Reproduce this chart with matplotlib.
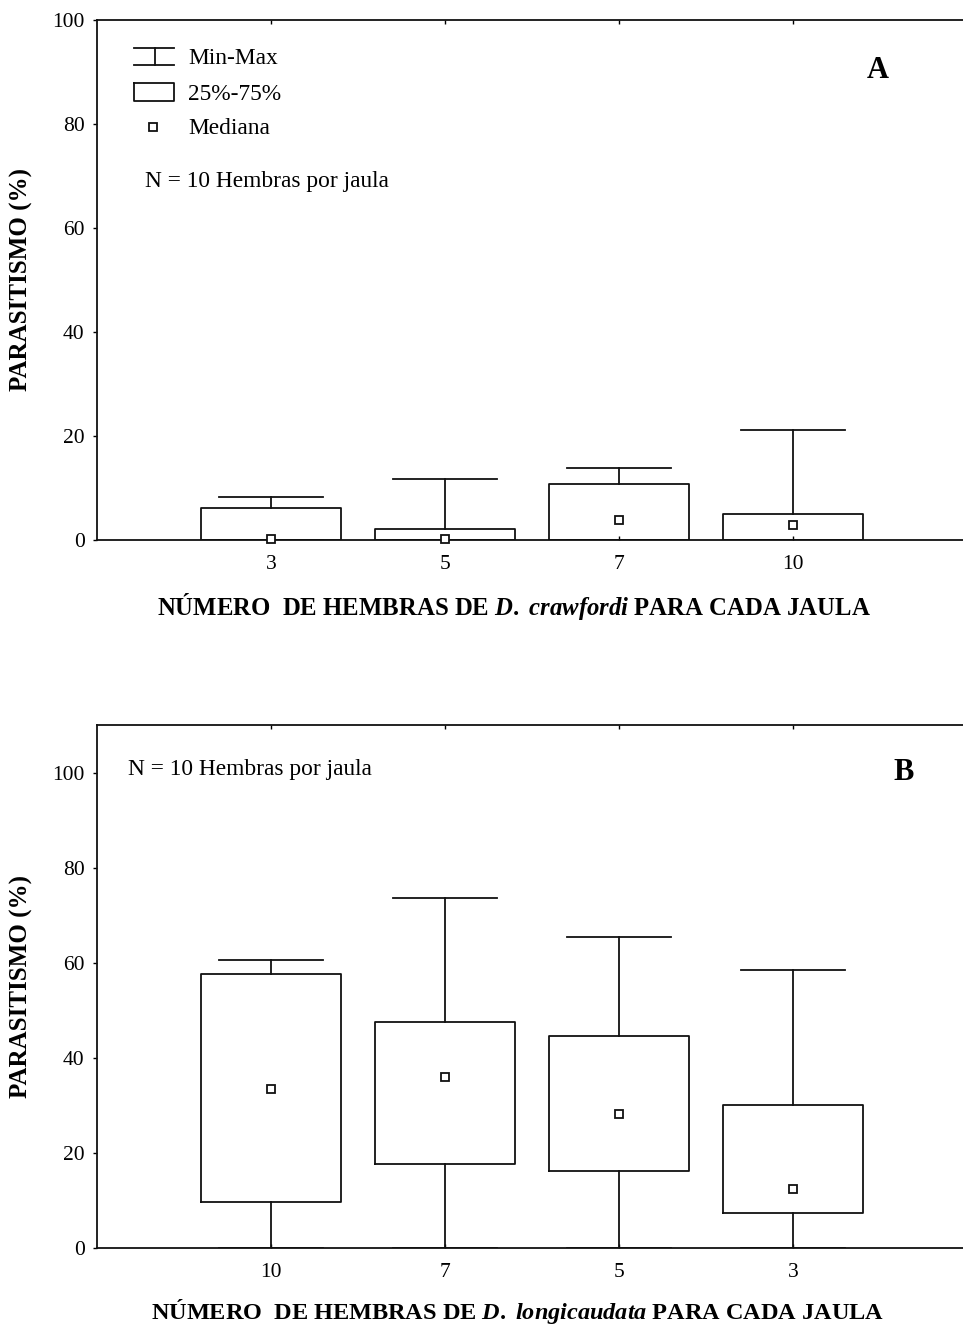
import matplotlib
matplotlib.use("Agg")
import matplotlib.pyplot as plt

plt.rcParams["font.family"] = ["Liberation Serif", "DejaVu Serif"]
plt.rcParams["mathtext.fontset"] = "custom"
plt.rcParams["mathtext.rm"] = "Liberation Serif:bold"
plt.rcParams["mathtext.it"] = "Liberation Serif:italic:bold"
plt.rcParams["mathtext.bf"] = "Liberation Serif:bold"

# Panel A: D. crawfordi, females per cage
cats_a = ["3", "5", "7", "10"]
min_a = [0, 0, 0, 0]
q1_a = [0, 0, 0, 0]
med_a = [0.2, 0.2, 3.9, 2.9]
q3_a = [6.1, 2.1, 10.8, 5.0]
max_a = [8.3, 11.8, 13.9, 21.1]

# Panel B: D. longicaudata, females per cage
cats_b = ["10", "7", "5", "3"]
min_b = [0, 0, 0, 0]
q1_b = [9.7, 17.7, 16.3, 7.4]
med_b = [33.4, 35.9, 28.1, 12.4]
q3_b = [57.6, 47.6, 44.5, 30.0]
max_b = [60.6, 73.7, 65.5, 58.4]

W, H = 963, 1327
fig = plt.figure(figsize=(W / 100, H / 100), dpi=100)

LW = 1.3
BLACK = "#111111"
AX_LEFT = 97
AX_WIDTH = 5.2 * 174


def px_axes(left, top, right, bottom):
    return fig.add_axes([left / W, 1 - bottom / H, (right - left) / W, (bottom - top) / H])


def draw_panel(ax, cats, lo, q1, med, q3, hi, ymax, yticks, xlabel, xlabel_size):
    stats = []
    for i, c in enumerate(cats):
        stats.append(dict(label=c, whislo=lo[i], q1=q1[i], med=med[i], q3=q3[i], whishi=hi[i]))
    pos = list(range(1, len(cats) + 1))
    ax.bxp(stats, positions=pos, widths=0.8, capwidths=0.6, showfliers=False,
           boxprops=dict(color=BLACK, linewidth=LW),
           whiskerprops=dict(color=BLACK, linewidth=LW),
           capprops=dict(color=BLACK, linewidth=LW),
           medianprops=dict(linewidth=0), manage_ticks=False)
    ax.plot(pos, med, linestyle="none", marker="s", markersize=6.2,
            markerfacecolor="white", markeredgecolor=BLACK, markeredgewidth=1.3,
            zorder=5, clip_on=False)
    ax.set_xlim(0, 5.2)
    ax.set_ylim(0, ymax)
    ax.set_xticks(pos)
    ax.set_xticklabels(cats)
    ax.set_yticks(yticks)
    ax.tick_params(axis="y", direction="out", length=3, width=1, labelsize=15.5, pad=6)
    ax.tick_params(axis="x", direction="in", length=3, width=1, labelsize=15.5, pad=11,
                   top=True)
    for s in ["left", "bottom", "top"]:
        ax.spines[s].set_linewidth(LW)
        ax.spines[s].set_color(BLACK)
    ax.spines["right"].set_visible(False)
    ax.set_ylabel("PARASITISMO (%)", fontsize=18, fontweight="bold", labelpad=14)
    ax.set_xlabel(xlabel, fontsize=xlabel_size, fontweight="bold")
    ax.xaxis.label.set_va("center")


# ---- Panel A ----
axA = px_axes(AX_LEFT, 19.5, AX_LEFT + AX_WIDTH, 540)
draw_panel(axA, cats_a, min_a, q1_a, med_a, q3_a, max_a, 100, [0, 20, 40, 60, 80, 100],
           r"NÚMERO  DE HEMBRAS DE $\mathit{D.}$ $\mathit{crawfordi}$ PARA CADA JAULA",
           17.8)
axA.xaxis.set_label_coords((514 - AX_LEFT) / AX_WIDTH, -(606 - 540) / (540 - 19.5))


# legend keys (drawn in pixel-based axes fraction)
def fx(px):
    return (px - AX_LEFT) / AX_WIDTH


def fy(py):
    return (540 - py) / (540 - 19.5)


kw = dict(transform=axA.transAxes, color=BLACK, linewidth=LW, clip_on=False)
axA.plot([fx(134), fx(174)], [fy(48), fy(48)], **kw)
axA.plot([fx(134), fx(174)], [fy(65), fy(65)], **kw)
axA.plot([fx(155), fx(155)], [fy(48), fy(65)], **kw)
axA.plot([fx(134), fx(174), fx(174), fx(134), fx(134)],
         [fy(83), fy(83), fy(101), fy(101), fy(83)], **kw)
axA.plot([fx(153)], [fy(127)], marker="s", markersize=6.2, markerfacecolor="white",
         markeredgecolor=BLACK, markeredgewidth=1.3, transform=axA.transAxes, clip_on=False)
tkw = dict(transform=axA.transAxes, fontsize=16.8, va="center", ha="left")
axA.text(fx(188), fy(58), "Min-Max", **tkw)
axA.text(fx(188), fy(94), "25%-75%", **tkw)
axA.text(fx(188), fy(128), "Mediana", **tkw)
axA.text(fx(145), fy(181), "N = 10 Hembras por jaula", **tkw)
axA.text(fx(878), fy(70), "A", transform=axA.transAxes, fontsize=22, fontweight="bold",
         va="center", ha="center")

# ---- Panel B ----
axB = px_axes(AX_LEFT, 725, AX_LEFT + AX_WIDTH, 1248)
draw_panel(axB, cats_b, min_b, q1_b, med_b, q3_b, max_b, 110, [0, 20, 40, 60, 80, 100],
           r"NÚMERO  DE HEMBRAS DE $\mathit{D.}$ $\mathit{longicaudata}$ PARA CADA JAULA",
           17.5)
axB.xaxis.set_label_coords((518 - AX_LEFT) / AX_WIDTH, -(1311 - 1248) / (1248 - 725))


def gx(px):
    return (px - AX_LEFT) / AX_WIDTH


def gy(py):
    return (1248 - py) / (1248 - 725)


axB.text(gx(128), gy(770), "N = 10 Hembras por jaula", transform=axB.transAxes,
         fontsize=16.8, va="center", ha="left")
axB.text(gx(904), gy(772), "B", transform=axB.transAxes, fontsize=22, fontweight="bold",
         va="center", ha="center")

fig.savefig("out.png", dpi=100)
